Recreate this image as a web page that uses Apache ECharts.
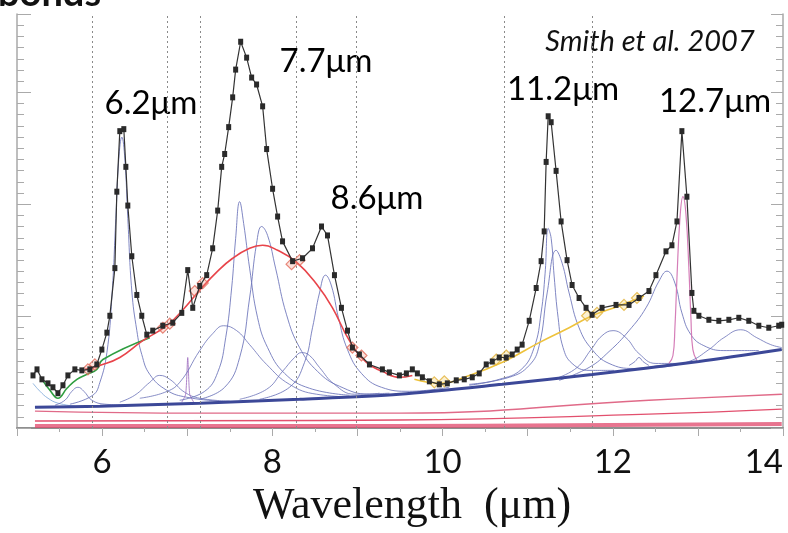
<!DOCTYPE html>
<html>
<head>
<meta charset="utf-8">
<script src="https://cdn.jsdelivr.net/npm/echarts@6.0.0/dist/echarts.min.js"></script>
<style>
  html, body { margin: 0; padding: 0; background: #fff; }
  #chart { width: 788px; height: 533px; }
</style>
</head>
<body>
<div id="chart"></div>
<script>
// Mid-IR spectrum (wavelength in µm, relative flux) with its PAHFIT-style decomposition
const spectrum = [
  [5.188,0.470],[5.235,0.524],[5.293,0.435],[5.364,0.399],[5.422,0.364],[5.481,0.311],[5.540,0.382],
  [5.598,0.470],[5.680,0.524],[5.762,0.515],[5.856,0.524],[5.938,0.568],[5.997,0.701],[6.056,0.852],
  [6.091,1.003],[6.150,1.429],[6.173,2.112],[6.208,2.653],[6.255,2.671],[6.279,2.334],[6.302,1.988],
  [6.349,1.535],[6.408,1.189],[6.466,1.003],[6.525,0.834],[6.595,0.870],[6.713,0.914],[6.830,0.941],
  [6.936,1.029],[7.006,1.411],[7.065,1.074],[7.147,1.269],[7.229,1.366],[7.299,1.606],[7.358,1.943],
  [7.405,2.334],[7.440,2.449],[7.487,2.689],[7.534,2.955],[7.569,3.203],[7.628,3.452],[7.698,3.310],
  [7.757,3.132],[7.815,3.070],[7.886,2.875],[7.933,2.493],[8.003,2.138],[8.062,1.890],[8.120,1.668],
  [8.238,1.491],[8.355,1.517],[8.472,1.606],[8.578,1.801],[8.648,1.721],[8.730,1.366],[8.812,1.074],
  [8.883,0.870],[8.941,0.719],[9.023,0.657],[9.141,0.568],[9.293,0.524],[9.375,0.497],[9.493,0.470],
  [9.575,0.488],[9.645,0.524],[9.704,0.488],[9.763,0.453],[9.845,0.417],[9.962,0.390],[10.056,0.399],
  [10.161,0.426],[10.255,0.435],[10.349,0.453],[10.431,0.488],[10.513,0.568],[10.584,0.594],[10.666,0.630],
  [10.748,0.630],[10.818,0.657],[10.877,0.701],[10.935,0.745],[11.018,0.958],[11.100,1.251],[11.158,1.491],
  [11.194,1.757],[11.217,2.378],[11.241,2.786],[11.276,2.733],[11.334,2.298],[11.393,1.846],[11.463,1.500],
  [11.522,1.278],[11.604,1.162],[11.686,1.074],[11.757,1.012],[11.874,1.074],[12.038,1.100],[12.191,1.100],
  [12.308,1.162],[12.425,1.224],[12.507,1.366],[12.625,1.579],[12.695,1.633],[12.754,1.846],[12.812,2.653],
  [12.871,2.067],[12.930,1.207],[12.953,1.047],[13.012,1.003],[13.129,0.967],[13.246,0.958],[13.364,0.967],
  [13.481,0.985],[13.598,0.958],[13.716,0.914],[13.833,0.896],[13.950,0.914],[13.985,0.923]
];

// total stellar + dust continuum
const continuum = [[5.211,0.186],[5.974,0.195],[7.147,0.222],[8.320,0.257],[9.493,0.302],
  [10.701,0.391],[11.757,0.479],[13.012,0.594],[13.985,0.701]];

// individual thermal dust components
const dustWarm = [[5.211,0.151],[7.147,0.133],[9.493,0.133],[12.425,0.248],[13.985,0.302]];
const dustCool = [[5.211,0.062],[9.493,0.071],[12.425,0.124],[13.985,0.169]];
const dustCold = [[5.211,0.018],[9.493,0.018],[13.985,0.035]];

// PAH features and lines (drawn on top of the continuum)
const pahWing = [[5.188,0.399],[5.270,0.328],[5.364,0.266],[5.481,0.222],[5.680,0.195]];
const pah57 = [[5.446,0.204],[5.563,0.248],[5.645,0.328],[5.716,0.364],[5.786,0.328],[5.880,0.248],[6.032,0.213],[6.326,0.204]];
const pah62 = [[5.622,0.213],[5.891,0.293],[5.974,0.408],[6.056,0.674],[6.114,1.162],[6.161,1.872],[6.196,2.405],
  [6.232,2.600],[6.267,2.405],[6.302,1.872],[6.349,1.224],[6.408,0.870],[6.466,0.657],[6.560,0.479],[6.760,0.337],
  [6.994,0.275],[7.381,0.240]];
const pah67 = [[6.208,0.231],[6.384,0.293],[6.560,0.408],[6.677,0.470],[6.795,0.435],[6.971,0.319],[7.147,0.266],[7.499,0.240]];
const arII = [[6.936,0.231],[6.982,0.302],[7.006,0.630],[7.029,0.302],[7.076,0.231]];
const pah74 = [[6.443,0.266],[6.736,0.319],[6.912,0.408],[7.147,0.692],[7.299,0.843],[7.428,0.914],[7.581,0.870],
  [7.733,0.745],[7.933,0.568],[8.202,0.390],[8.519,0.302],[9.023,0.275]];
const pah76 = [[6.912,0.248],[7.205,0.328],[7.358,0.497],[7.452,0.807],[7.522,1.251],[7.569,1.695],[7.616,2.023],
  [7.663,1.828],[7.733,1.429],[7.827,0.985],[7.944,0.719],[8.144,0.488],[8.437,0.355],[8.906,0.293]];
const pah785 = [[7.147,0.257],[7.440,0.364],[7.616,0.630],[7.733,1.162],[7.815,1.650],[7.874,1.801],[7.944,1.721],
  [8.038,1.429],[8.167,1.012],[8.320,0.719],[8.531,0.506],[8.789,0.373],[9.141,0.302],[9.258,0.311]];
const pah83 = [[7.616,0.257],[7.933,0.346],[8.120,0.506],[8.261,0.630],[8.343,0.674],[8.437,0.648],[8.554,0.541],
  [8.730,0.390],[8.965,0.302],[9.375,0.311]];
const pah86 = [[7.850,0.257],[8.202,0.364],[8.378,0.586],[8.472,0.896],[8.554,1.207],[8.625,1.366],[8.695,1.269],
  [8.777,0.985],[8.883,0.701],[9.047,0.488],[9.282,0.364],[9.610,0.328],[10.079,0.364]];
const pah1123 = [[10.314,0.382],[10.666,0.435],[10.924,0.523],[11.076,0.719],[11.158,1.029],[11.205,1.384],[11.241,1.784],
  [11.276,1.695],[11.311,1.358],[11.358,0.985],[11.416,0.719],[11.522,0.577],[11.721,0.515],[12.015,0.515]];
const pah1133 = [[10.314,0.390],[10.783,0.453],[11.018,0.559],[11.135,0.736],[11.229,1.207],[11.334,1.588],[11.405,1.473],
  [11.487,1.207],[11.604,0.896],[11.757,0.701],[11.956,0.577],[12.249,0.532],[12.543,0.559]];
const pah120 = [[11.370,0.453],[11.581,0.541],[11.745,0.701],[11.874,0.825],[12.003,0.870],[12.155,0.807],[12.308,0.665],
  [12.507,0.577],[12.894,0.577]];
const h2S2 = [[12.191,0.559],[12.261,0.594],[12.308,0.630],[12.355,0.594],[12.425,0.559]];
const pah1262 = [[11.370,0.426],[11.721,0.541],[11.956,0.683],[12.191,0.870],[12.390,1.074],[12.543,1.313],[12.637,1.402],
  [12.730,1.295],[12.812,1.029],[12.918,0.834],[13.070,0.736],[13.305,0.692],[13.716,0.692]];
const neII = [[12.660,0.577],[12.707,0.648],[12.730,0.896],[12.754,1.340],[12.789,1.872],[12.824,2.067],[12.859,1.917],
  [12.894,1.429],[12.918,0.985],[12.941,0.701],[12.988,0.603]];
const pah1348 = [[12.543,0.541],[12.894,0.594],[13.129,0.701],[13.305,0.807],[13.504,0.878],[13.692,0.807],[13.856,0.745],[13.985,0.719]];

// spline continua and their anchor points
const splineGreen = [[5.293,0.435],[5.387,0.337],[5.481,0.266],[5.587,0.355],[5.704,0.435],[5.821,0.479],[5.938,0.524],[6.009,0.612],[6.560,0.807]];
const splineRed = [[5.798,0.524],[5.974,0.559],[6.208,0.630],[6.478,0.781],[6.760,0.914],[6.971,1.074],[7.147,1.233],
  [7.358,1.402],[7.534,1.517],[7.733,1.606],[7.886,1.633],[8.062,1.588],[8.284,1.482],[8.519,1.287],[8.707,1.074],
  [8.906,0.781],[9.106,0.586],[9.293,0.506],[9.493,0.453],[9.645,0.470]];
const splineOrange = [[9.669,0.435],[9.962,0.399],[10.314,0.470],[10.724,0.594],[11.135,0.763],[11.487,0.896],[11.757,1.003],[12.073,1.091],[12.367,1.180]];
const anchorsRed = [[5.833,0.524],[5.915,0.568],[6.713,0.896],[6.795,0.932],[7.088,1.224],[7.182,1.295],[8.226,1.464],[8.320,1.500],[8.941,0.719],[9.047,0.648]];
const anchorsOrange = [[9.903,0.408],[10.021,0.417],[10.630,0.612],[10.748,0.648],[11.698,1.003],[11.815,1.029],[12.132,1.100],[12.284,1.162]];
const anchorLines = [5.880, 6.771, 7.147, 8.284, 8.988, 10.724, 11.757];

const xRange = [5, 14];
const yRange = [0, 3.7];

const sansFont = "Lato, 'Open Sans', sans-serif";

function curve(data, color, width, z, opacity, smooth) {
  return {
    type: 'line', data: data, xAxisIndex: 0, yAxisIndex: 0,
    smooth: smooth == null ? 0.45 : smooth, showSymbol: false, symbol: 'none',
    lineStyle: { color: color, width: width, opacity: opacity == null ? 1 : opacity },
    z: z, silent: true, animation: false
  };
}

const featureBlue = '#6a72b8';
const series = [
  curve(dustCold, '#e0466a', 4, 2, 0.75),
  curve(dustCool, '#e2506e', 1.4, 2),
  curve(dustWarm, '#e06a88', 1.4, 2),
  Object.assign(curve(continuum, '#3c4898', 3, 4, 1, 0.3), {
    markLine: {
      silent: true, symbol: ['none', 'none'], animation: false,
      label: { show: false },
      lineStyle: { type: [2, 3], color: '#8a8a8a', width: 1 },
      data: anchorLines.map(v => ({ xAxis: v }))
    }
  }),
  curve(pahWing, '#7aa6d8', 1, 3, 0.8),
  curve(pah57, featureBlue, 1, 3, 0.8),
  curve(pah62, featureBlue, 1, 3, 0.85),
  curve(pah67, featureBlue, 1, 3, 0.8),
  curve(arII, '#a070c0', 1, 3, 0.85, 0.2),
  curve(pah74, featureBlue, 1, 3, 0.8),
  curve(pah76, featureBlue, 1, 3, 0.85),
  curve(pah785, featureBlue, 1, 3, 0.85),
  curve(pah83, featureBlue, 1, 3, 0.8),
  curve(pah86, featureBlue, 1, 3, 0.85),
  curve(pah1123, featureBlue, 1, 3, 0.85),
  curve(pah1133, featureBlue, 1, 3, 0.85),
  curve(pah120, featureBlue, 1, 3, 0.8),
  curve(h2S2, featureBlue, 1, 3, 0.8),
  curve(pah1262, featureBlue, 1, 3, 0.85),
  curve(neII, '#d070b0', 1.2, 3, 0.9),
  curve(pah1348, featureBlue, 1, 3, 0.8),
  curve(splineGreen, '#2f9e40', 1.6, 5),
  curve(splineRed, '#e8444a', 1.6, 5),
  curve(splineOrange, '#eec23c', 1.6, 5),
  {
    type: 'scatter', data: anchorsRed, symbol: 'diamond', symbolSize: 11, z: 6, silent: true, animation: false,
    itemStyle: { color: 'rgba(240,150,130,0.35)', borderColor: '#e26a5a', borderWidth: 1.2 }
  },
  {
    type: 'scatter', data: anchorsOrange, symbol: 'diamond', symbolSize: 11, z: 6, silent: true, animation: false,
    itemStyle: { color: 'rgba(245,205,90,0.35)', borderColor: '#e2b23a', borderWidth: 1.2 }
  },
  {
    type: 'line', data: spectrum, smooth: false, symbol: 'rect', symbolSize: [5, 6], showSymbol: true,
    lineStyle: { color: '#333', width: 1.2 }, itemStyle: { color: '#2a2a2a' },
    z: 8, silent: true, animation: false
  }
];

const frameGray = '#8f8f8f';
const tickGray = '#aaaaaa';

function yFrame(position, interval, len, showLine) {
  return {
    type: 'value', position: position, min: yRange[0], max: yRange[1], interval: interval,
    axisLine: { show: showLine, lineStyle: { color: '#a8a8a8', width: 1.5 } },
    axisTick: { show: true, inside: true, length: len, lineStyle: { color: tickGray, width: 1 } },
    axisLabel: { show: false }, splitLine: { show: false }
  };
}

const option = {
  backgroundColor: '#ffffff',
  animation: false,
  grid: { left: 17, right: 5, top: 14, bottom: 102, containLabel: false },
  xAxis: [
    {
      type: 'value', position: 'bottom', min: xRange[0], max: xRange[1], interval: 1,
      axisLine: { show: false }, axisTick: { show: false }, splitLine: { show: false },
      axisLabel: {
        show: true, margin: 18, color: '#111', fontSize: 33, fontFamily: sansFont,
        formatter: v => (v % 2 === 0 ? String(v) : ''), alignMaxLabel: 'right', showMinLabel: true, showMaxLabel: true
      },
      name: 'Wavelength  (\u03bcm)', nameLocation: 'middle', nameGap: 56,
      nameTextStyle: { fontFamily: "'Liberation Serif', 'DejaVu Serif', serif", fontSize: 44, color: '#111', padding: [0, 0, 0, 24] }
    },
    {
      type: 'value', position: 'top', min: xRange[0], max: xRange[1], interval: 0.5,
      axisLine: { show: true, lineStyle: { color: frameGray, width: 2 } },
      axisTick: { show: true, inside: true, length: 4, lineStyle: { color: tickGray } },
      axisLabel: { show: false }, splitLine: { show: false }
    },
    {
      type: 'value', position: 'top', min: xRange[0], max: xRange[1], interval: 1,
      axisLine: { show: false },
      axisTick: { show: true, inside: true, length: 8, lineStyle: { color: tickGray } },
      axisLabel: { show: false }, splitLine: { show: false }
    }
  ],
  yAxis: [
    yFrame('left', 0.1, 7, true),
    yFrame('left', 1, 14, false),
    yFrame('right', 0.1, 7, true),
    yFrame('right', 1, 12, false)
  ],
  graphic: [
    { type: 'text', x: -2, y: 13, style: { text: 'bonds', font: "bold 38px " + sansFont, fill: '#111', align: 'left', verticalAlign: 'bottom', textAlign: 'left', textVerticalAlign: 'bottom' } },
    { type: 'text', x: 151, y: 103, style: { text: '6.2\u03bcm', font: "33px " + sansFont, fill: '#000', align: 'center', verticalAlign: 'middle', textAlign: 'center', textVerticalAlign: 'middle' } },
    { type: 'text', x: 326, y: 61, style: { text: '7.7\u03bcm', font: "33px " + sansFont, fill: '#000', align: 'center', verticalAlign: 'middle', textAlign: 'center', textVerticalAlign: 'middle' } },
    { type: 'text', x: 377, y: 198, style: { text: '8.6\u03bcm', font: "33px " + sansFont, fill: '#000', align: 'center', verticalAlign: 'middle', textAlign: 'center', textVerticalAlign: 'middle' } },
    { type: 'text', x: 563, y: 89, style: { text: '11.2\u03bcm', font: "33px " + sansFont, fill: '#000', align: 'center', verticalAlign: 'middle', textAlign: 'center', textVerticalAlign: 'middle' } },
    { type: 'text', x: 715, y: 101, style: { text: '12.7\u03bcm', font: "33px " + sansFont, fill: '#000', align: 'center', verticalAlign: 'middle', textAlign: 'center', textVerticalAlign: 'middle' } },
    { type: 'text', x: 650, y: 42, style: { text: 'Smith et al. 2007', font: "italic 29px " + sansFont, fill: '#111', align: 'center', verticalAlign: 'middle', textAlign: 'center', textVerticalAlign: 'middle' } }
  ],
  series: series
};

const chart = echarts.init(document.getElementById('chart'), null, { renderer: 'canvas' });
chart.setOption(option);
</script>
</body>
</html>
